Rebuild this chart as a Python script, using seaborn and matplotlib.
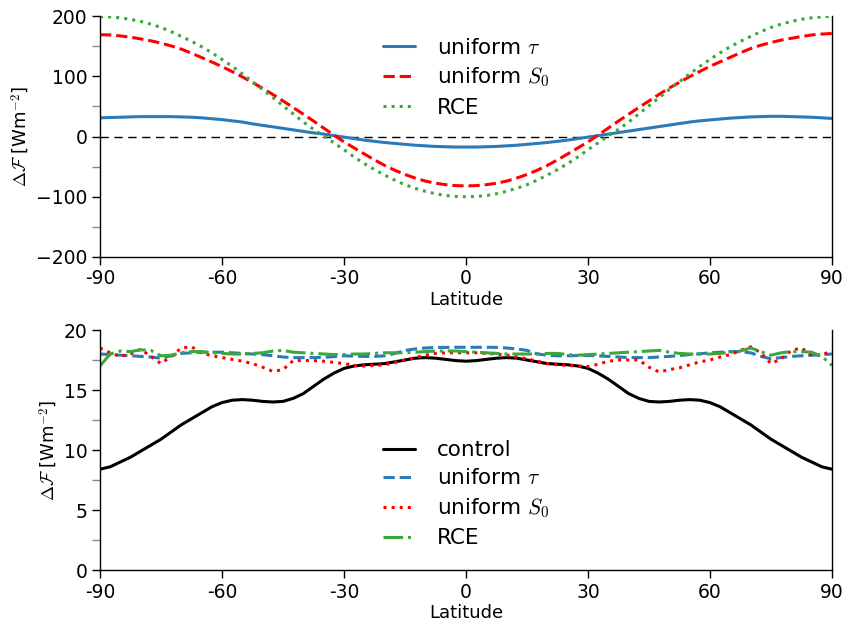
import numpy as np
import pandas as pd
import matplotlib
matplotlib.use("Agg")
import matplotlib.pyplot as plt
import seaborn as sns
from matplotlib.ticker import MultipleLocator

# ---------------- data ----------------
lat = np.arange(-90, 90.1, 2.5)

# top panel
top_uniform_tau = [31, 31.5, 32, 32.5, 33, 33, 33, 33, 32.5, 32, 31, 29.5, 28, 26, 24, 21, 18.5, 16, 13.5,
                   11, 8.5, 6, 4, 1.5, -1, -3.5, -6, -8, -10, -11.5, -13, -14.5, -15.5, -16.5, -17, -17.5, -17.5,
                   -17.5, -17, -16.5, -15.5, -14.5, -13, -11.5, -10, -8, -6, -3.5, -1, 1.5, 4, 6.5, 9, 11.5, 14,
                   16.5, 19, 21.5, 24, 26, 27.5, 29, 30.5, 31.5, 32.5, 33, 33.5, 33.5, 33, 32.5, 32, 31, 30]
top_uniform_S0 = [169, 168.5, 167, 164.8, 162, 158.8, 155, 150.3, 145, 138.3, 131, 123.7, 116, 107.7, 99, 89.7,
                  80, 69.7, 59, 48.2, 37, 25.7, 14, 2.5, -9, -19, -29, -38.8, -48, -56, -63, -69, -74, -77.5,
                  -80, -81.5, -82,
                  -81.5, -80, -77.5, -74, -69, -63, -56, -48, -38.8, -29, -19, -9, 2.5, 14, 25.7, 37, 48.2, 59,
                  70, 80.5, 90, 99.5, 108, 116.5, 124, 131.5, 139, 146, 151.5, 156, 160, 163, 166, 168.5, 170, 171]
top_rce = [199, 198.5, 197, 194.5, 191, 186.5, 181, 174, 166, 158, 149, 139, 128, 116.5, 104, 91, 78, 64.5,
           51, 37.5, 24, 12, 1, -10.5, -22, -34, -45, -55, -64, -72.5, -80, -86, -91, -95, -98, -99.5, -100,
           -99.5, -98, -95, -91, -86, -80, -72.5, -64, -55, -45, -34, -22, -10.5, 1, 12, 24, 37.5, 51,
           64.5, 78, 91, 104, 116.5, 128, 139, 149, 158, 166, 174, 181, 186.5, 191, 194.5, 197, 198.5, 199.5]

# bottom panel
bot_control = [8.4, 8.6, 9.0, 9.4, 9.9, 10.4, 10.9, 11.5, 12.1, 12.6, 13.1, 13.6, 13.95, 14.15, 14.2, 14.15,
               14.05, 14.0, 14.05, 14.3, 14.7, 15.3, 15.9, 16.4, 16.8, 17.0, 17.1, 17.15, 17.2, 17.35, 17.5,
               17.65, 17.7, 17.65, 17.55, 17.45, 17.4,
               17.45, 17.55, 17.65, 17.7, 17.65, 17.5, 17.35, 17.2, 17.15, 17.1, 17.0, 16.8, 16.4, 15.9, 15.3,
               14.7, 14.3, 14.05, 14.0, 14.05, 14.15, 14.2, 14.15, 13.95, 13.6, 13.1, 12.6, 12.1, 11.5, 10.9,
               10.4, 9.9, 9.4, 9.0, 8.6, 8.4]
bot_uniform_tau = [18.0, 17.95, 17.9, 17.85, 17.8, 17.75, 17.65, 17.85, 18.05, 18.1, 18.15, 18.15, 18.15, 18.1,
                   18.05, 18.0, 17.95, 17.85, 17.75, 17.7, 17.7, 17.7, 17.72, 17.78, 17.85, 17.82, 17.8, 17.8,
                   17.85, 18.05, 18.3, 18.42, 18.5, 18.55, 18.55, 18.56, 18.56,
                   18.56, 18.56, 18.55, 18.5, 18.42, 18.3, 18.0, 17.9, 17.85, 17.85, 17.87, 17.88, 17.85, 17.8,
                   17.75, 17.7, 17.7, 17.7, 17.75, 17.8, 17.87, 17.95, 18.02, 18.1, 18.15, 18.2, 18.2, 18.1,
                   17.8, 17.6, 17.7, 17.8, 17.85, 17.9, 17.95, 18.0]
bot_uniform_S0 = [18.5, 18.1, 17.8, 18.0, 18.4, 17.8, 17.2, 17.8, 18.5, 18.6, 18.1, 17.85, 17.7, 17.55, 17.4,
                  17.2, 16.9, 16.55, 16.7, 17.45, 17.45, 17.45, 17.4, 17.3, 17.2, 17.05, 17.0, 17.05, 17.1, 17.3,
                  17.5, 17.7, 17.9, 18.05, 18.1, 18.1, 18.1,
                  18.1, 18.05, 18.0, 17.9, 17.75, 17.6, 17.4, 17.2, 17.1, 17.05, 17.0, 16.95, 17.15, 17.4, 17.5,
                  17.5, 17.5, 16.9, 16.5, 16.7, 16.85, 17.1, 17.35, 17.5, 17.75, 17.95, 18.3, 18.6, 18.1, 17.2,
                  17.6, 18.3, 18.5, 17.9, 17.9, 18.3]
bot_rce = [17.0, 18.0, 18.25, 18.2, 18.35, 18.3, 17.85, 17.9, 18.1, 18.2, 18.2, 18.1, 18.05, 18.0, 18.0, 18.05,
           18.1, 18.25, 18.3, 18.15, 18.1, 18.05, 18.0, 17.95, 17.95, 18.0, 18.0, 18.05, 18.1, 18.1, 18.1, 18.15,
           18.2, 18.25, 18.25, 18.25, 18.2,
           18.15, 18.1, 18.05, 18.0, 18.0, 18.0, 18.0, 18.05, 18.05, 17.95, 17.9, 17.95, 18.0, 18.05, 18.1,
           18.15, 18.2, 18.25, 18.3, 18.15, 18.05, 18.0, 18.0, 18.0, 18.05, 18.15, 18.25, 18.5, 18.2, 17.9,
           18.1, 18.2, 18.2, 18.15, 17.8, 17.05]

xtick_vals = [-90, -60, -30, 0, 30, 60, 90]
xtick_labels = ["-90", "-60", "-30", "0", "30", "60", "90"]

# ---------------- style ----------------
sns.set_theme(style="ticks")
plt.rcParams["font.family"] = ["DejaVu Sans"]
plt.rcParams["mathtext.fontset"] = "cm"
plt.rcParams["axes.linewidth"] = 1.0
plt.rcParams["axes.edgecolor"] = "black"
plt.rcParams["text.color"] = "black"
plt.rcParams["axes.labelcolor"] = "black"
plt.rcParams["legend.labelcolor"] = "black"

BLUE = "#2b7bba"
RED = "#ff0000"
GREEN = "#3aa83a"

fig = plt.figure(figsize=(8.44, 6.27), dpi=100)
ax1 = fig.add_axes([100 / 844, 1 - 257 / 627, 732 / 844, 241 / 627])
ax2 = fig.add_axes([100 / 844, 1 - 570 / 627, 732 / 844, 240 / 627])

df_top = pd.DataFrame({"lat": lat, "tau": top_uniform_tau, "S0": top_uniform_S0, "rce": top_rce})
df_bot = pd.DataFrame({"lat": lat, "control": bot_control, "tau": bot_uniform_tau,
                       "S0": bot_uniform_S0, "rce": bot_rce})

lw = 2.2
ax1.axhline(0, color="black", lw=1.0, ls=(0, (6, 4)), zorder=1)
sns.lineplot(data=df_top, x="lat", y="tau", ax=ax1, color=BLUE, lw=lw, label=r"uniform $\tau$")
sns.lineplot(data=df_top, x="lat", y="S0", ax=ax1, color=RED, lw=lw, ls="--", label=r"uniform $S_0$")
sns.lineplot(data=df_top, x="lat", y="rce", ax=ax1, color=GREEN, lw=lw, ls=":", label="RCE")

sns.lineplot(data=df_bot, x="lat", y="control", ax=ax2, color="black", lw=lw, label="control")
sns.lineplot(data=df_bot, x="lat", y="tau", ax=ax2, color=BLUE, lw=lw, ls="--", label=r"uniform $\tau$")
sns.lineplot(data=df_bot, x="lat", y="S0", ax=ax2, color=RED, lw=lw, ls=":", label=r"uniform $S_0$")
sns.lineplot(data=df_bot, x="lat", y="rce", ax=ax2, color=GREEN, lw=lw, ls="-.", label="RCE")

for ax, (ylo, yhi), major, minor in [(ax1, (-200, 200), 100, 50), (ax2, (0, 20), 5, 2.5)]:
    ax.set_xlim(-90, 90)
    ax.set_ylim(ylo, yhi)
    ax.set_xticks(xtick_vals)
    ax.set_xticklabels(xtick_labels)
    ax.yaxis.set_major_locator(MultipleLocator(major))
    ax.yaxis.set_minor_locator(MultipleLocator(minor))
    ax.spines["top"].set_visible(False)
    ax.spines["right"].set_visible(True)
    ax.tick_params(axis="both", which="major", direction="out", length=6, width=1,
                   color="black", labelsize=13.5, labelcolor="black", pad=3)
    ax.tick_params(axis="y", which="minor", direction="out", length=6, width=1, color="#888888")
    ax.tick_params(axis="x", which="minor", bottom=False)
    ax.tick_params(right=False, top=False)
    ax.set_xlabel("Latitude", fontsize=13, labelpad=2, color="black")
    ax.set_ylabel(r"$\Delta\mathcal{F}\ $[Wm$^{-2}$]", fontsize=13, labelpad=3, color="black")
    leg = ax.legend(loc="upper center" if ax is ax1 else "lower center", frameon=False, fontsize=15.5,
                    handlelength=1.5, handletextpad=1.0, labelspacing=0.38, borderaxespad=0.6)
    for t in leg.get_texts():
        t.set_color("black")

fig.savefig("out.png", dpi=100)
